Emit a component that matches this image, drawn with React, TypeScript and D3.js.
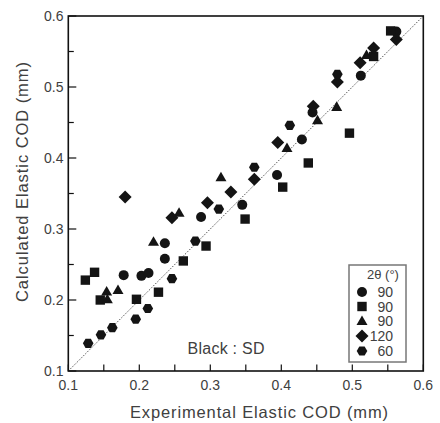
import React from "react";
import * as d3 from "d3";

// ---- data ----
const circle90: [number, number][] = [
  [0.178, 0.235], [0.203, 0.234], [0.213, 0.238], [0.236, 0.280], [0.236, 0.258],
  [0.287, 0.317], [0.345, 0.334], [0.394, 0.376], [0.429, 0.426], [0.444, 0.464],
  [0.512, 0.516], [0.562, 0.578],
];
const square90: [number, number][] = [
  [0.124, 0.228], [0.137, 0.239], [0.145, 0.200], [0.196, 0.201], [0.227, 0.211],
  [0.262, 0.255], [0.294, 0.276], [0.349, 0.314], [0.402, 0.359], [0.438, 0.393],
  [0.496, 0.435], [0.530, 0.543], [0.554, 0.579],
];
const triangle90: [number, number][] = [
  [0.154, 0.212], [0.155, 0.201], [0.170, 0.214], [0.220, 0.282], [0.256, 0.323],
  [0.315, 0.373], [0.408, 0.414], [0.451, 0.453], [0.478, 0.472], [0.520, 0.545],
];
const diamond120: [number, number][] = [
  [0.180, 0.345], [0.246, 0.316], [0.296, 0.337], [0.329, 0.352], [0.362, 0.370],
  [0.395, 0.422], [0.445, 0.473], [0.479, 0.507], [0.511, 0.534], [0.530, 0.555],
  [0.562, 0.567],
];
const hexagon60: [number, number][] = [
  [0.128, 0.139], [0.146, 0.151], [0.162, 0.161], [0.195, 0.173], [0.212, 0.188],
  [0.246, 0.230], [0.279, 0.283], [0.312, 0.328], [0.362, 0.387], [0.412, 0.446],
  [0.479, 0.518],
];
const legendLabels = ["90", "90", "90", "120", "60"];
const xTicks = [0.1, 0.2, 0.3, 0.4, 0.5, 0.6];
const yTicks = [0.1, 0.2, 0.3, 0.4, 0.5, 0.6];
const minorTicks = [0.15, 0.25, 0.35, 0.45, 0.55];

// ---- custom symbol types (size = radius) ----
const symCircle = { draw(ctx: any, r: number) { ctx.moveTo(r, 0); ctx.arc(0, 0, r, 0, 2 * Math.PI); } };
const symSquare = { draw(ctx: any, r: number) { ctx.rect(-r, -r, 2 * r, 2 * r); } };
const symTriangle = {
  draw(ctx: any, r: number) {
    const h = r * 1.732;
    ctx.moveTo(0, -h * 0.58);
    ctx.lineTo(r, h * 0.42);
    ctx.lineTo(-r, h * 0.42);
    ctx.closePath();
  },
};
const symDiamond = {
  draw(ctx: any, r: number) {
    ctx.moveTo(0, -r); ctx.lineTo(r, 0); ctx.lineTo(0, r); ctx.lineTo(-r, 0); ctx.closePath();
  },
};
const symHexagon = {
  draw(ctx: any, r: number) {
    for (let i = 0; i < 6; i++) {
      const a = (Math.PI / 3) * i;
      const px = r * Math.cos(a), py = r * Math.sin(a);
      if (i === 0) ctx.moveTo(px, py); else ctx.lineTo(px, py);
    }
    ctx.closePath();
  },
};

const series = [
  { data: circle90, type: symCircle, r: 5 },
  { data: square90, type: symSquare, r: 4.7 },
  { data: triangle90, type: symTriangle, r: 5.5 },
  { data: diamond120, type: symDiamond, r: 6.5 },
  { data: hexagon60, type: symHexagon, r: 5.3 },
];

export default function App() {
  const W = 440, H = 423;
  const x = d3.scaleLinear().domain([0.1, 0.6]).range([68.3, 423.3]);
  const y = d3.scaleLinear().domain([0.1, 0.6]).range([371, 16]);
  const txt = "#404040";
  const font = "'Liberation Sans', Arial, sans-serif";
  const legY = [292, 306.5, 321, 336, 351];

  return (
    <svg width={W} height={H} style={{ position: "absolute", left: 0, top: 0, background: "#fff" }}
      fontFamily={font}>
      {/* diagonal */}
      <line x1={x(0.1)} y1={y(0.1)} x2={x(0.6)} y2={y(0.6)} stroke="#555" strokeWidth={1} strokeDasharray="1.5,1.5" />
      {/* frame */}
      <rect x={x(0.1)} y={y(0.6)} width={x(0.6) - x(0.1)} height={y(0.1) - y(0.6)} fill="none" stroke="#111" strokeWidth={1.6} />
      {/* x ticks */}
      {[...xTicks, ...minorTicks].map((t, i) => (
        <line key={"xt" + i} x1={x(t)} x2={x(t)} y1={y(0.1)} y2={y(0.1) - 6.5} stroke="#111" strokeWidth={1.2} />
      ))}
      {/* y ticks */}
      {yTicks.map((t, i) => (
        <line key={"yt" + i} x1={x(0.1)} x2={x(0.1) + 8} y1={y(t)} y2={y(t)} stroke="#111" strokeWidth={1.2} />
      ))}
      {minorTicks.map((t, i) => (
        <line key={"ym" + i} x1={x(0.1)} x2={x(0.1) + 5.5} y1={y(t)} y2={y(t)} stroke="#111" strokeWidth={1.2} />
      ))}
      {/* tick labels */}
      {xTicks.map((t, i) => (
        <text key={"xl" + i} x={x(t)} y={390} textAnchor="middle" fontSize={14} fill={txt}>{t.toFixed(1)}</text>
      ))}
      {yTicks.map((t, i) => (
        <text key={"yl" + i} x={63.5} y={y(t) + 5} textAnchor="end" fontSize={14} fill={txt}>{t.toFixed(1)}</text>
      ))}
      {/* axis titles */}
      <text x={259} y={418} textAnchor="middle" fontSize={16.5} fill={txt} textLength={258} lengthAdjust="spacing">
        Experimental Elastic COD (mm)
      </text>
      <text transform={`translate(28,182) rotate(-90)`} textAnchor="middle" fontSize={16.5} fill={txt} textLength={240} lengthAdjust="spacing">
        Calculated Elastic COD (mm)
      </text>
      {/* points */}
      {series.map((s, si) =>
        s.data.map((d, i) => (
          <path key={`p${si}-${i}`} transform={`translate(${x(d[0])},${y(d[1])})`}
            d={d3.symbol().type(s.type as any).size(s.r)() as string} fill="#141414" />
        ))
      )}
      {/* annotation */}
      <text x={226} y={354} textAnchor="middle" fontSize={16} fill={txt} textLength={77} lengthAdjust="spacing">Black : SD</text>
      {/* legend */}
      <rect x={349} y={265} width={57} height={97} fill="#fff" stroke="#777" strokeWidth={1.5} />
      <text x={367} y={279} fontSize={13} fill={txt}>2θ (°)</text>
      {series.map((s, i) => (
        <g key={"lg" + i}>
          <path transform={`translate(362,${legY[i]})`} d={d3.symbol().type(s.type as any).size(s.r)() as string} fill="#141414" />
          <text x={393} y={legY[i] + 5} textAnchor="end" fontSize={14} fill={txt}>{legendLabels[i]}</text>
        </g>
      ))}
    </svg>
  );
}
